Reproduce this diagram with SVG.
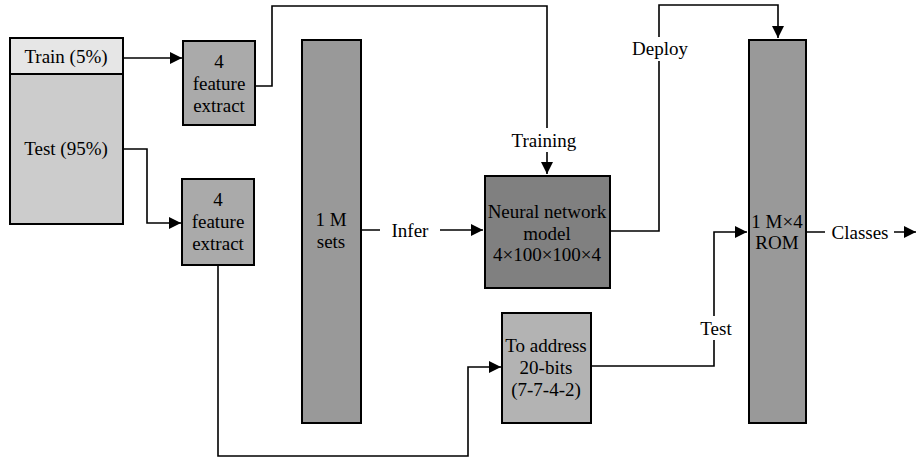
<svg xmlns="http://www.w3.org/2000/svg" width="918" height="459" viewBox="0 0 918 459">
<style>
.box{stroke:#000;stroke-width:2}
.t{font-family:"Liberation Serif","Times New Roman",serif;font-size:19px;fill:#000;text-anchor:middle}
.c{fill:none;stroke:#000;stroke-width:1.6}
.lbl{fill:#fff}
</style>
<defs>
<marker id="ah" viewBox="0 0 10 10" refX="10" refY="5" markerWidth="12" markerHeight="12" markerUnits="userSpaceOnUse" orient="auto">
<path d="M0,0 L10,5 L0,10 z" fill="#000"/>
</marker>
</defs>
<rect width="918" height="459" fill="#fff"/>
<g id="connectors">
<path class="c" d="M123,58 H182" marker-end="url(#ah)"/>
<path class="c" d="M255,86 H272 V6 H547 V174" marker-end="url(#ah)"/>
<path class="c" d="M123,149 H147 V223 H181" marker-end="url(#ah)"/>
<path class="c" d="M218,265 V456 H468 V367 H501" marker-end="url(#ah)"/>
<path class="c" d="M361,230 H483" marker-end="url(#ah)"/>
<path class="c" d="M610,231 H659 V5 H778 V38" marker-end="url(#ah)"/>
<path class="c" d="M591,366 H714 V232 H747" marker-end="url(#ah)"/>
<path class="c" d="M806,232 H916" marker-end="url(#ah)"/>
<rect class="lbl" x="505" y="128" width="78" height="24"/>
<text class="t" x="544" y="147">Training</text>
<rect class="lbl" x="380" y="218" width="60" height="24"/>
<text class="t" x="410" y="237">Infer</text>
<rect class="lbl" x="628" y="37" width="64" height="24"/>
<text class="t" x="660" y="55">Deploy</text>
<rect class="lbl" x="697" y="316" width="38" height="24"/>
<text class="t" x="716" y="335">Test</text>
<rect class="lbl" x="825" y="220" width="69" height="24"/>
<text class="t" x="860" y="239">Classes</text>
</g>
<g id="dataset">
<rect class="box" x="10" y="38" width="113" height="186" fill="#cccccc"/>
<rect class="box" x="10" y="38" width="113" height="36" fill="#e6e6e6"/>
<text class="t" x="66" y="63">Train (5%)</text>
<text class="t" x="66" y="155">Test (95%)</text>
</g>
<g id="feature1">
<rect class="box" x="183" y="41" width="72" height="84" fill="#aaaaaa"/>
<text class="t" x="219" y="68">4</text>
<text class="t" x="219" y="90">feature</text>
<text class="t" x="219" y="112">extract</text>
</g>
<g id="feature2">
<rect class="box" x="182" y="179" width="72" height="86" fill="#aaaaaa"/>
<text class="t" x="218" y="206">4</text>
<text class="t" x="218" y="228">feature</text>
<text class="t" x="218" y="250">extract</text>
</g>
<g id="sets">
<rect class="box" x="302" y="40" width="59" height="383" fill="#999999"/>
<text class="t" x="331" y="226">1 M</text>
<text class="t" x="331" y="248">sets</text>
</g>
<g id="nn">
<rect class="box" x="485" y="176" width="125" height="112" fill="#808080"/>
<text class="t" x="547" y="218">Neural network</text>
<text class="t" x="547" y="240">model</text>
<text class="t" x="547" y="261">4×100×100×4</text>
</g>
<g id="address">
<rect class="box" x="502" y="313" width="89" height="110" fill="#b3b3b3"/>
<text class="t" x="546" y="352">To address</text>
<text class="t" x="546" y="374">20-bits</text>
<text class="t" x="546" y="396">(7-7-4-2)</text>
</g>
<g id="rom">
<rect class="box" x="749" y="40" width="57" height="383" fill="#999999"/>
<text class="t" x="777" y="228">1 M×4</text>
<text class="t" x="777" y="249">ROM</text>
</g>
</svg>
